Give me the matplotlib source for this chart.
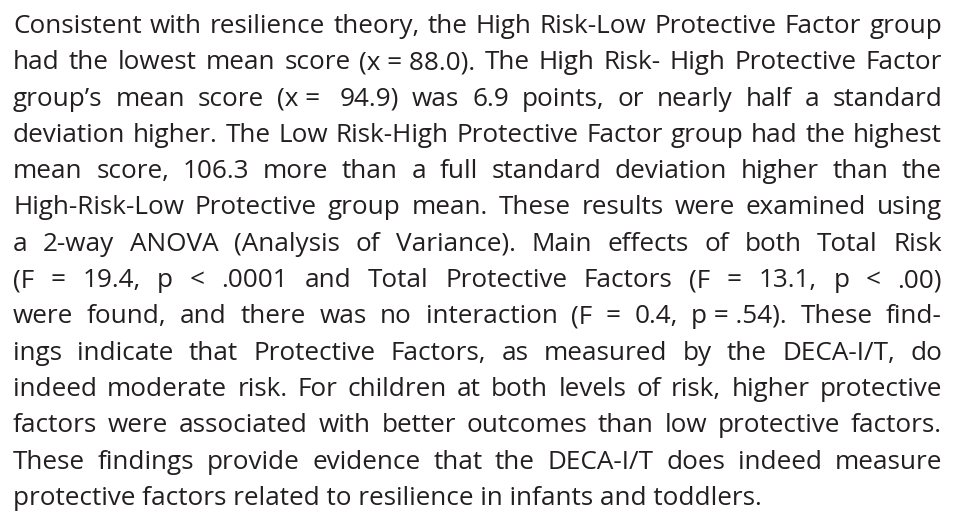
import matplotlib
matplotlib.use("Agg")
import matplotlib.pyplot as plt

# -------- Paragraph text, one entry per printed line ----------
# \u00a0 marks spaces that are not stretched by the justification
lines = [
    "Consistent with resilience theory, the High Risk-Low Protective Factor group",
    "had the lowest mean score (x\u00a0=\u00a088.0). The High Risk- High Protective Factor",
    "group\u2019s mean score (x\u00a0=\u00a0 94.9) was  6.9 points, or nearly half a standard",
    "deviation higher. The Low Risk-High Protective Factor group had the highest",
    "mean score, 106.3 more than a  full standard deviation higher than the",
    "High-Risk-Low Protective group mean.  These results were examined using",
    "a 2-way ANOVA (Analysis of Variance). Main effects of both Total Risk",
    "(F  =  19.4,  p  <  .0001 and Total Protective Factors (F  =  13.1,  p  <  .00)",
    "were found, and there was no interaction (F  =  0.4, p\u00a0=\u00a0.54). These find-",
    "ings indicate that Protective Factors, as measured by the DECA-I/T, do",
    "indeed moderate risk. For children at both levels of risk, higher protective",
    "factors were associated with better outcomes than low protective factors.",
    "These findings provide evidence that the DECA-I/T does indeed measure",
    "protective factors related to resilience in infants and toddlers.",
]

W, H, DPI = 960, 527, 100
LEFT, RIGHT = 13, 942          # text block edges, px
TOP_BASE, LEADING = 33, 36.3   # first baseline and line step, px
LAST_WIDTH = 750               # natural width of the last (ragged) line, px
COLOR = "#231f20"
FONT = ["Open Sans", "DejaVu Sans"]

fig = plt.figure(figsize=(W / DPI, H / DPI), dpi=DPI)
fig.patch.set_facecolor("white")
renderer = fig.canvas.get_renderer()


def width_of(s, size):
    t = fig.text(0, 0, s, fontsize=size, family=FONT)
    w = t.get_window_extent(renderer).width
    t.remove()
    return w


# pick the font size so the ragged last line has the same length as the print
size = 17.0 * LAST_WIDTH / width_of(lines[-1], 17.0)

for i, line in enumerate(lines):
    y = 1 - (TOP_BASE + i * LEADING) / H
    if i == len(lines) - 1:
        fig.text(LEFT / W, y, line, fontsize=size, family=FONT, color=COLOR,
                 ha="left", va="baseline")
        continue
    words = [wd for wd in line.split(" ") if wd]
    widths = [width_of(wd, size) for wd in words]
    gap = (RIGHT - LEFT - sum(widths)) / (len(words) - 1)
    x = LEFT
    for wd, w in zip(words, widths):
        fig.text(x / W, y, wd, fontsize=size, family=FONT, color=COLOR,
                 ha="left", va="baseline")
        x += w + gap

fig.savefig("out.png", dpi=DPI, facecolor="white")
